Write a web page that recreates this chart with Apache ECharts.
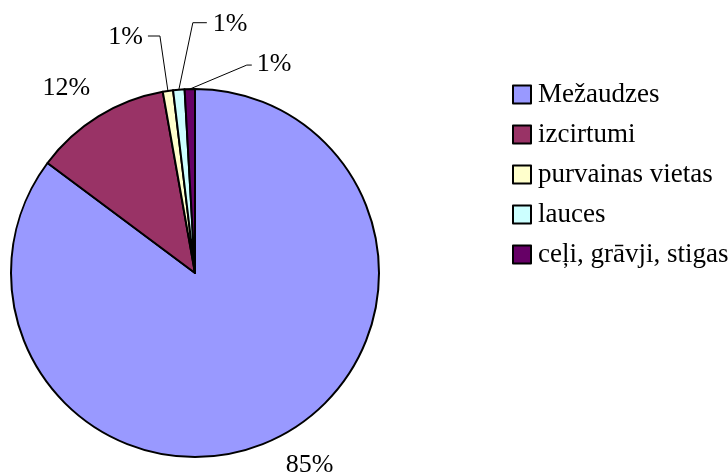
<!DOCTYPE html>
<html>
<head>
<meta charset="utf-8">
<script src="https://cdn.jsdelivr.net/npm/echarts@6/dist/echarts.min.js"></script>
<style>
html,body{margin:0;padding:0;background:#fff;}
#chart{width:728px;height:475px;}
</style>
</head>
<body>
<div id="chart"></div>
<script>
const categories = ['Mežaudzes', 'izcirtumi', 'purvainas vietas', 'lauces', 'ceļi, grāvji, stigas'];
const values = [85.2, 12.0, 0.9, 1.0, 0.9];
const colors = ['#9999FF', '#993366', '#FFFFCC', '#CCFFFF', '#660066'];

const CX = 195, CY = 273, R = 184;
const FONT = 'Liberation Serif, Times New Roman, serif';

// label placement relative to the slice edge point (style, not data)
const labelStyle = [
  { text: [32, 28], align: 'center' },
  { text: [-32, -28], align: 'center' },
  { line: [[-8, -55], [-20, -55]], text: [-25, -54], align: 'right' },
  { line: [[14, -67], [28, -67]], text: [34, -66], align: 'left' },
  { line: [[57, -24], [62, -24]], text: [67, -25], align: 'left' }
];

const total = values.reduce((a, b) => a + b, 0);
function midAngle(i) {
  let cum = 0;
  for (let k = 0; k < i; k++) cum += values[k];
  return (cum + values[i] / 2) / total * 2 * Math.PI;
}

const chart = echarts.init(document.getElementById('chart'));
chart.setOption({
  animation: false,
  color: colors,
  legend: {
    orient: 'vertical',
    left: 512,
    top: 81,
    padding: 0,
    itemWidth: 18,
    itemHeight: 18,
    itemGap: 13,
    icon: 'rect',
    textStyle: { fontFamily: FONT, fontSize: 27, color: '#000', padding: [0, 0, 0, 2] },
    data: categories
  },
  series: [{
    type: 'pie',
    center: [CX, CY],
    radius: R,
    startAngle: 90,
    clockwise: true,
    avoidLabelOverlap: false,
    itemStyle: { borderColor: '#000', borderWidth: 2 },
    emphasis: { disabled: true },
    label: {
      show: true,
      position: 'outside',
      fontFamily: FONT,
      fontSize: 26,
      color: '#000',
      formatter: p => Math.round(p.value / total * 100) + '%'
    },
    labelLine: { show: true, lineStyle: { color: '#000', width: 1 } },
    labelLayout: function (params) {
      const i = params.dataIndex;
      const a = midAngle(i);
      const ax = CX + R * Math.sin(a);
      const ay = CY - R * Math.cos(a);
      const s = labelStyle[i];
      const res = {
        x: ax + s.text[0],
        y: ay + s.text[1],
        align: s.align,
        verticalAlign: 'middle'
      };
      if (s.line) {
        res.labelLinePoints = [[ax, ay], [ax + s.line[0][0], ay + s.line[0][1]], [ax + s.line[1][0], ay + s.line[1][1]]];
      } else {
        res.labelLinePoints = [[ax, ay], [ax, ay], [ax, ay]];
      }
      return res;
    },
    data: categories.map((c, i) => ({
      name: c,
      value: values[i],
      labelLine: { show: !!labelStyle[i].line }
    }))
  }]
});
</script>
</body>
</html>
